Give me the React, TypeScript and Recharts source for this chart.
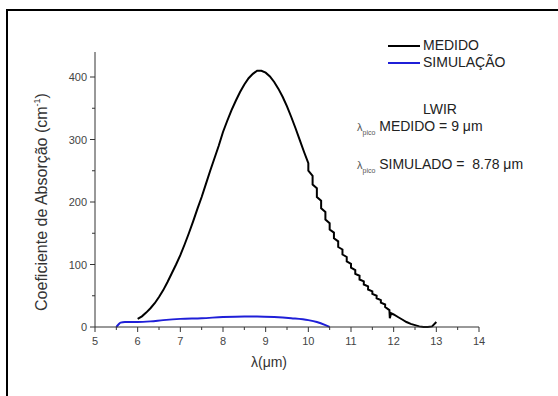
import React from 'react';
import { LineChart, Line, XAxis, YAxis } from 'recharts';

// Wavelength (um) and absorption coefficient (cm^-1)
const medidoX = [
  6.0, 6.1, 6.2, 6.3, 6.4, 6.5, 6.6, 6.7, 6.8, 6.9,
  7.0, 7.1, 7.2, 7.3, 7.4, 7.5, 7.6, 7.7, 7.8, 7.9,
  8.0, 8.1, 8.2, 8.3, 8.4, 8.5, 8.6, 8.7, 8.8, 8.9,
  9.0, 9.1, 9.2, 9.3, 9.4, 9.5, 9.6, 9.7, 9.8, 9.9,
  10.0, 10.0, 10.1, 10.1, 10.2, 10.2, 10.3, 10.3, 10.4, 10.4,
  10.5, 10.5, 10.6, 10.6, 10.7, 10.7, 10.8, 10.8, 10.9, 10.9,
  11.0, 11.0, 11.1, 11.1, 11.2, 11.2, 11.3, 11.3, 11.4, 11.4,
  11.5, 11.5, 11.6, 11.6, 11.7, 11.7, 11.8, 11.8, 11.9, 11.91,
  11.94, 12.0, 12.1, 12.2, 12.3, 12.4, 12.5, 12.6, 12.7, 12.8,
  12.9, 13.0,
];
const medidoY = [
  13, 17, 23, 30, 38, 48, 59, 72, 86, 100,
  115, 132, 150, 169, 189, 208, 229, 250, 270, 290,
  312, 330, 347, 362, 376, 388, 398, 405, 410, 410,
  407, 401, 392, 381, 368, 353, 336, 318, 299, 280,
  262, 250, 242, 228, 222, 208, 202, 190, 184, 172,
  166, 156, 151, 142, 137, 128, 124, 116, 112, 105,
  101, 95, 91, 85, 82, 76, 73, 68, 65, 60,
  57, 53, 50, 46, 43, 39, 36, 32, 27, 14,
  22, 20, 16, 12, 8, 5, 3, 1, 0, 0,
  1, 8,
];

const simX = [5.5, 5.55, 5.6, 5.7, 6.0, 6.3, 6.6, 7.0, 7.5, 8.0, 8.5, 8.8, 9.2, 9.6, 10.0, 10.2, 10.4, 10.5];
const simY = [0, 4, 7, 8, 8, 9, 11, 13, 14, 16, 17, 17, 16, 14, 11, 8, 3, 0];

const xTicks = [5, 5.5, 6, 6.5, 7, 7.5, 8, 8.5, 9, 9.5, 10, 10.5, 11, 11.5, 12, 12.5, 13, 13.5, 14];
const yTicks = [0, 50, 100, 150, 200, 250, 300, 350, 400];

const medido = medidoX.map((x, i) => ({ x, y: medidoY[i] }));
const simulacao = simX.map((x, i) => ({ x, y: simY[i] }));

const FONT = '"Liberation Sans", Arial, sans-serif';
const AXIS = '#333';
const BLUE = '#1f1fd8';

const series = [
  { name: 'MEDIDO', color: '#000' },
  { name: 'SIMULAÇÃO', color: BLUE },
];

const XTick = (props: any) => {
  const { x, y, payload } = props;
  const major = Number.isInteger(payload.value);
  return (
    <g>
      <line x1={x} y1={y} x2={x} y2={y + (major ? 5 : 3)} stroke={AXIS} />
      {major && (
        <text x={x} y={y + 18} textAnchor="middle" fontSize={11} fill="#444" fontFamily={FONT}>
          {payload.value}
        </text>
      )}
    </g>
  );
};

const YTick = (props: any) => {
  const { x, y, payload } = props;
  const major = payload.value % 100 === 0;
  return (
    <g>
      <line x1={x - (major ? 5 : 3)} y1={y} x2={x} y2={y} stroke={AXIS} />
      {major && (
        <text x={x - 8} y={y + 4} textAnchor="end" fontSize={11} fill="#444" fontFamily={FONT}>
          {payload.value}
        </text>
      )}
    </g>
  );
};

const Lambda = () => (
  <span>
    <span style={{ fontSize: 11, color: '#555' }}>λ</span>
    <sub style={{ fontSize: 7, color: '#555', verticalAlign: '-4px' }}>pico</sub>
  </span>
);

export default function App() {
  return (
    <div style={{ position: 'absolute', left: 0, top: 0, width: 558, height: 396, background: '#fff', fontFamily: FONT }}>
      <div
        style={{
          position: 'absolute', left: 6, top: 9, width: 552, height: 387,
          borderLeft: '2px solid #000', borderTop: '2px solid #000',
        }}
      />
      <LineChart
        width={558}
        height={396}
        margin={{ top: 52, right: 79, bottom: 39, left: 55 }}
        style={{ position: 'absolute', left: 0, top: 0 }}
      >
        <XAxis
          type="number"
          dataKey="x"
          domain={[5, 14]}
          ticks={xTicks}
          interval={0}
          height={30}
          axisLine={{ stroke: AXIS }}
          tickLine={false}
          tickSize={0}
          tickMargin={0}
          tick={<XTick />}
          label={{
            content: ({ viewBox }: any) => (
              <text x={viewBox.x + viewBox.width / 2 - 18} y={367} textAnchor="middle" fontSize={14} fill="#333" fontFamily={FONT}>
                λ(μm)
              </text>
            ),
          }}
        />
        <YAxis
          type="number"
          dataKey="y"
          domain={[0, 440]}
          ticks={yTicks}
          interval={0}
          width={40}
          axisLine={{ stroke: AXIS }}
          tickLine={false}
          tickSize={0}
          tickMargin={0}
          tick={<YTick />}
          label={{
            content: () => (
              <text x={47} y={202} transform="rotate(-90 47 202)" textAnchor="middle" fontSize={16} fill="#333" fontFamily={FONT}>
                Coeficiente de Absorção (cm
                <tspan fontSize={9} dy={-7}>-1</tspan>
                <tspan dy={7}>)</tspan>
              </text>
            ),
          }}
        />
        <Line
          data={medido}
          dataKey="y"
          name="MEDIDO"
          type="linear"
          stroke="#000"
          strokeWidth={2}
          dot={false}
          isAnimationActive={false}
        />
        <Line
          data={simulacao}
          dataKey="y"
          name="SIMULAÇÃO"
          type="monotone"
          stroke={BLUE}
          strokeWidth={2}
          dot={false}
          isAnimationActive={false}
        />
      </LineChart>
      <div style={{ position: 'absolute', left: 388, top: 37, fontSize: 14, color: '#222', lineHeight: '17px' }}>
        {series.map((item) => (
          <div key={item.name} style={{ display: 'flex', alignItems: 'center' }}>
            <span style={{ display: 'inline-block', width: 32, height: 2, background: item.color, marginRight: 3 }} />
            <span>{item.name}</span>
          </div>
        ))}
      </div>
      <div style={{ position: 'absolute', left: 423, top: 101, fontSize: 14, color: '#222' }}>LWIR</div>
      <div style={{ position: 'absolute', left: 357, top: 118, fontSize: 14, color: '#222', whiteSpace: 'nowrap' }}>
        <Lambda /> MEDIDO = 9 μm
      </div>
      <div style={{ position: 'absolute', left: 357, top: 156, fontSize: 14, color: '#222', whiteSpace: 'nowrap' }}>
        <Lambda /> SIMULADO =&nbsp; 8.78 μm
      </div>
    </div>
  );
}
